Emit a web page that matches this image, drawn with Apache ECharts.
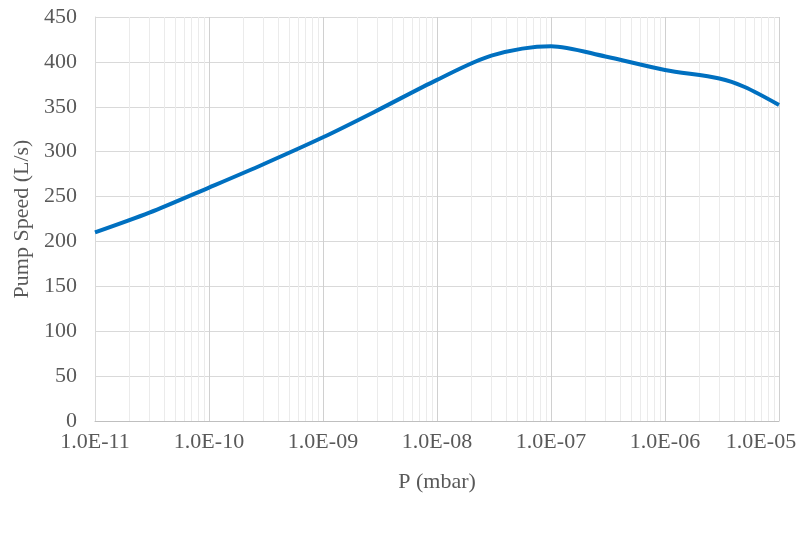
<!DOCTYPE html>
<html>
<head>
<meta charset="utf-8">
<script src="https://cdn.jsdelivr.net/npm/echarts@6/dist/echarts.min.js"></script>
<style>html,body{margin:0;padding:0;background:#fff}#c{width:800px;height:552px}</style>
</head>
<body>
<div id="c"></div>
<script>
const pressure = [1e-11, 3e-11, 1e-10, 3e-10, 1e-9, 3e-9, 1e-8, 3e-8, 1e-7, 3e-7, 1e-6, 3e-6, 5e-6, 1e-5];
const speed    = [210,   232,   260,   286,   316,  346,  380,  407,  417.5, 406, 391,  381.5, 372, 352];
const yTicks = [0, 50, 100, 150, 200, 250, 300, 350, 400, 450];
const xMin = 1e-11, xMax = 1e-5;

const minorX = [];
for (let e = -11; e < -5; e++) for (let m = 2; m <= 9; m++) minorX.push(m * Math.pow(10, e));

const font = 'Liberation Serif, Times New Roman, serif';
const txt = '#595959';
function fmt(v) {
  const e = Math.round(Math.log10(v));
  const s = Math.abs(e) < 10 ? '0' + Math.abs(e) : '' + Math.abs(e);
  const t = '1.0E' + (e < 0 ? '-' : '+') + s;
  return Math.abs(v - xMax) / xMax < 1e-6 ? '{last|' + t + '}' : t;
}

const chart = echarts.init(document.getElementById('c'));
chart.setOption({
  animation: false,
  grid: { left: 95, right: 21, top: 17, bottom: 131, outerBoundsMode: 'none', containLabel: false },
  xAxis: {
    type: 'log', logBase: 10, min: xMin, max: xMax,
    name: 'P (mbar)', nameLocation: 'middle', nameGap: 50,
    nameTextStyle: { fontFamily: font, fontSize: 22, color: txt },
    axisLine: { show: true, lineStyle: { color: '#bfbfbf', width: 1 } },
    axisTick: { show: false },
    axisLabel: {
      fontFamily: font, fontSize: 22, color: txt, margin: 10, formatter: fmt,
      showMinLabel: true, showMaxLabel: true,
      rich: { last: { fontFamily: font, fontSize: 22, color: txt, padding: [0, 36, 0, 0] } }
    },
    splitLine: { show: true, lineStyle: { color: '#d0d0d0', width: 1 } }
  },
  yAxis: {
    type: 'value', min: yTicks[0], max: yTicks[yTicks.length - 1], interval: 50,
    name: 'Pump Speed (L/s)', nameLocation: 'middle', nameGap: 60,
    nameTextStyle: { fontFamily: font, fontSize: 22, color: txt },
    axisLine: { show: true, lineStyle: { color: '#d9d9d9' } },
    axisTick: { show: false },
    axisLabel: { fontFamily: font, fontSize: 22, color: txt, margin: 18 },
    splitLine: { show: true, lineStyle: { color: '#d9d9d9', width: 1 } }
  },
  series: [
    {
      type: 'custom', z: 1, silent: true,
      data: minorX.map(v => [v]),
      renderItem: function (params, api) {
        const x = api.value(0);
        const p0 = api.coord([x, yTicks[0]]);
        const p1 = api.coord([x, yTicks[yTicks.length - 1]]);
        return {
          type: 'line',
          shape: { x1: Math.round(p0[0]) + 0.5, y1: p0[1], x2: Math.round(p1[0]) + 0.5, y2: p1[1] },
          style: { stroke: '#ebebeb', lineWidth: 1 }
        };
      }
    },
    {
      type: 'line', z: 3,
      data: pressure.map((p, i) => [p, speed[i]]),
      smooth: 0.3, showSymbol: false,
      lineStyle: { color: '#0070c0', width: 4 }
    }
  ]
});
</script>
</body>
</html>
